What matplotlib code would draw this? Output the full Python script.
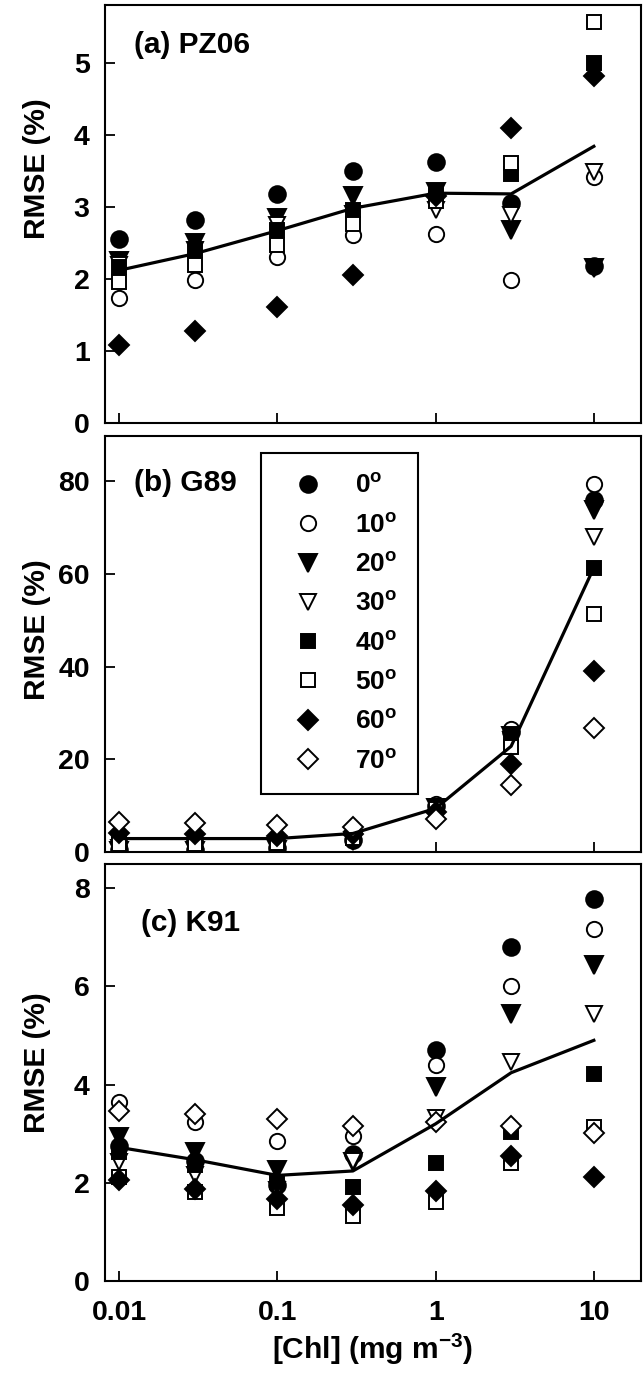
import numpy as np
import matplotlib
matplotlib.use("Agg")
import matplotlib.pyplot as plt

plt.rcParams['font.family'] = ['Liberation Sans', 'DejaVu Sans']
plt.rcParams['font.weight'] = 'bold'
plt.rcParams['mathtext.fontset'] = 'custom'
plt.rcParams['mathtext.rm'] = 'Liberation Sans:bold'
plt.rcParams['mathtext.bf'] = 'Liberation Sans:bold'
plt.rcParams['mathtext.default'] = 'bf'

# chlorophyll concentrations (mg m-3)
chl = [0.01, 0.03, 0.1, 0.3, 1, 3, 10]
angles = ['0', '10', '20', '30', '40', '50', '60', '70']
nan = np.nan

# (a) PZ06, RMSE (%) per viewing angle
pz06 = {
    '0':  [2.56, 2.82, 3.18, 3.50, 3.62, 3.05, 2.18],
    '10': [1.73, 1.99, 2.31, 2.61, 2.62, 1.99, 3.42],
    '20': [2.25, 2.50, 2.85, 3.15, 3.21, 2.68, 2.15],
    '30': [2.20, 2.40, 2.75, 2.90, 2.96, 2.89, 3.49],
    '40': [2.17, 2.40, 2.68, 2.96, 3.20, 3.45, 5.00],
    '50': [1.96, 2.19, 2.47, 2.76, 3.08, 3.61, 5.56],
    '60': [1.08, 1.28, 1.61, 2.05, 3.15, 4.10, 4.81],
    '70': [nan, nan, nan, nan, nan, nan, nan],
}
pz06_line = [2.12, 2.35, 2.67, 2.98, 3.19, 3.18, 3.84]

# (b) G89
g89 = {
    '0':  [0.5, 0.5, 0.8, 2.6, 10.0, 25.8, 75.9],
    '10': [1.0, 0.9, 1.2, 3.0, 10.4, 26.6, 79.3],
    '20': [0.3, 0.3, 0.5, 2.4, 9.5, 25.0, 73.8],
    '30': [0.8, 0.8, 1.0, 2.7, 9.8, 24.2, 68.0],
    '40': [1.5, 1.5, 1.8, 3.2, 9.6, 25.2, 61.3],
    '50': [1.8, 1.7, 1.9, 3.0, 9.2, 22.7, 51.4],
    '60': [4.0, 3.9, 3.4, 3.8, 8.6, 18.9, 39.0],
    '70': [6.5, 6.3, 5.9, 5.4, 7.2, 14.4, 26.8],
}
g89_line = [2.9, 2.9, 2.9, 4.0, 9.4, 22.8, 61.3]

# (c) K91
k91 = {
    '0':  [2.75, 2.45, 1.95, 2.58, 4.71, 6.80, 7.78],
    '10': [3.65, 3.24, 2.85, 2.95, 4.39, 6.01, 7.16],
    '20': [2.93, 2.63, 2.25, 2.42, 3.95, 5.43, 6.43],
    '30': [2.42, 2.15, 1.85, 2.45, 3.31, 4.46, 5.43],
    '40': [2.63, 2.36, 2.02, 1.92, 2.40, 3.04, 4.22],
    '50': [2.12, 1.81, 1.49, 1.32, 1.61, 2.40, 3.14],
    '60': [2.05, 1.88, 1.66, 1.54, 1.83, 2.55, 2.11],
    '70': [3.46, 3.39, 3.29, 3.15, 3.24, 3.16, 3.02],
}
k91_line = [2.72, 2.47, 2.15, 2.24, 3.20, 4.24, 4.90]

styles = {
    '0':  ('o', 'black', 12),
    '10': ('o', 'white', 11),
    '20': ('v', 'black', 12.5),
    '30': ('v', 'white', 12),
    '40': ('s', 'black', 10.5),
    '50': ('s', 'white', 10),
    '60': ('D', 'black', 10.5),
    '70': ('D', 'white', 10),
}

fig = plt.figure(figsize=(6.44, 13.78), dpi=100)
left, width = 0.163, 0.832
ax_a = fig.add_axes([left, 0.693, width, 0.3033])
ax_b = fig.add_axes([left, 0.3817, width, 0.3019])
ax_c = fig.add_axes([left, 0.0704, width, 0.3026])

panels = [
    (ax_a, pz06, pz06_line, '(a) PZ06', (0, 5.8), [0, 1, 2, 3, 4, 5], (0.054, 0.904), 0.608),
    (ax_b, g89, g89_line, '(b) G89', (0, 89.7), [0, 20, 40, 60, 80], (0.054, 0.887), 0.534),
    (ax_c, k91, k91_line, '(c) K91', (0, 8.49), [0, 2, 4, 6, 8], (0.068, 0.859), 0.523),
]

for ax, data, line, title, ylim, yt, tpos, ylab_y in panels:
    for a in angles:
        m, fc, ms = styles[a]
        ax.plot(chl, data[a], linestyle='none', marker=m, markerfacecolor=fc,
                markeredgecolor='black', markeredgewidth=1.4, markersize=ms,
                label=a + '$^{o}$')
    ax.plot(chl, line, color='black', linewidth=2.3, zorder=5)
    ax.set_xscale('log')
    ax.set_xlim(0.00813, 19.8)
    ax.set_ylim(*ylim)
    ax.set_yticks(yt)
    ax.set_xticks([0.01, 0.1, 1, 10])
    ax.xaxis.set_minor_locator(matplotlib.ticker.NullLocator())
    ax.tick_params(direction='in', length=7, width=1.3, labelsize=20.5, pad=11)
    for s in ax.spines.values():
        s.set_linewidth(1.5)
    ax.set_ylabel('RMSE (%)', fontsize=21.5, fontweight='bold')
    ax.yaxis.set_label_coords(-0.10, ylab_y)
    ax.text(tpos[0], tpos[1], title, transform=ax.transAxes, fontsize=21.5,
            fontweight='bold', ha='left', va='center')

ax_a.set_xticklabels([])
ax_b.set_xticklabels([])
ax_c.set_xticklabels(['0.01', '0.1', '1', '10'])
ax_c.tick_params(axis='x', pad=14)
ax_c.set_xlabel('[Chl] (mg m$^{-3}$)', fontsize=21.5, fontweight='bold', labelpad=4)

leg = ax_b.legend(loc='upper left', bbox_to_anchor=(0.292, 0.959), borderaxespad=0,
                  fontsize=19, frameon=True, fancybox=False, edgecolor='black',
                  framealpha=1, borderpad=0.8, labelspacing=0.58, handlelength=1.9,
                  handletextpad=0.85, numpoints=1)
leg.get_frame().set_linewidth(1.5)

fig.savefig('out.png', dpi=100)
